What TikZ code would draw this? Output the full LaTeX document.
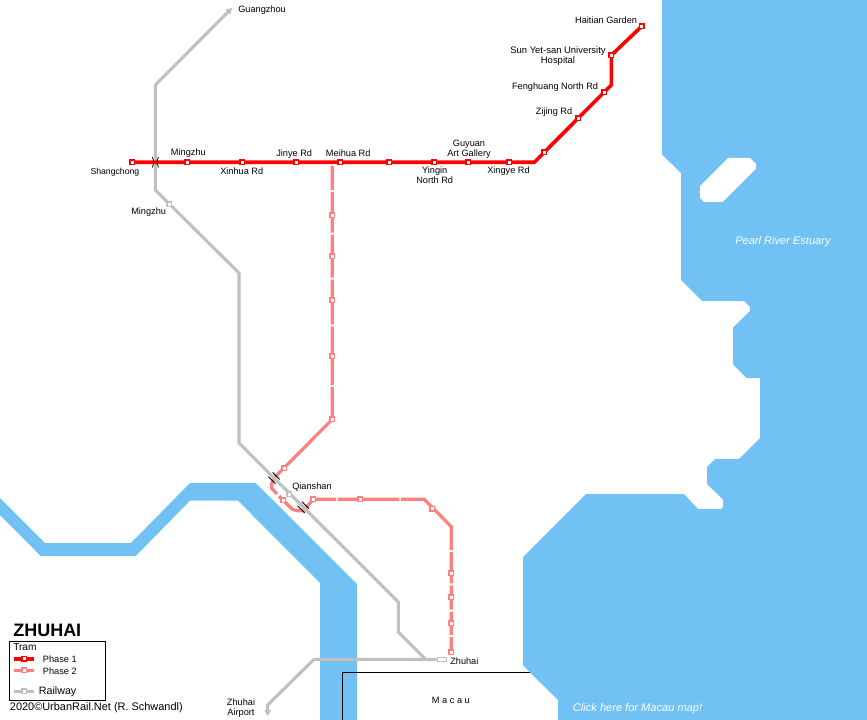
\documentclass[tikz,border=0pt]{standalone}
\usepackage{fontspec}
\setmainfont{Liberation Sans}
\usetikzlibrary{arrows.meta}
\pgfdeclarelayer{water}\pgfdeclarelayer{pinklayer}\pgfdeclarelayer{greylayer}\pgfdeclarelayer{redlayer}
\pgfsetlayers{water,pinklayer,greylayer,redlayer,main}
\definecolor{wat}{RGB}{114,193,245}
\definecolor{ph1}{RGB}{255,0,0}
\definecolor{ph2}{RGB}{255,128,128}
\definecolor{rail}{RGB}{192,192,192}
\tikzset{
  phaseone/.style={draw=ph1,line width=2.7pt,line join=miter},
  phasetwo/.style={draw=ph2,line width=2.4pt,line join=miter},
  railline/.style={draw=rail,line width=2.3pt,line join=miter},
  st/.style={rectangle,fill=white,inner sep=0pt,minimum size=3.5pt,line width=.9pt},
  stone/.style={st,draw=ph1},
  sttwo/.style={st,draw=ph2},
  strail/.style={st,draw=rail},
  lab/.style={inner sep=0pt,font=\fontsize{6.9}{7.5}\selectfont,text height=5pt,text depth=.3pt},
  labtwo/.style={inner sep=0pt,font=\fontsize{6.9}{7.5}\selectfont,align=center},
  wlab/.style={inner sep=0pt,font=\fontsize{8.3}{9}\itshape\selectfont,text=white,text height=5.4pt,text depth=.3pt},
  tick/.style={draw=black,line width=.6pt},
  x=.75pt,y=-.75pt
}
\begin{document}
\begin{tikzpicture}
\useasboundingbox (0,0) rectangle (867,720);
\begin{pgfonlayer}{water}
\fill[white] (0,0) rectangle (867,720);
\fill[wat] (662,0) -- (662,154.5) -- (681,173) -- (681,280) -- (702,301) -- (744,301) -- (750,307) -- (750,311) -- (733,327.5) -- (733,364.5) -- (746.5,378) -- (760,378) -- (760,438) -- (739,459) -- (715,459) -- (707,467) -- (707,484) -- (723,499.5) -- (723,507) -- (721,509) -- (698,509) -- (684,494) -- (586,494) -- (523,557) -- (523,665.5) -- (558,700) -- (558,720) -- (867,720) -- (867,0) -- cycle;
\fill[white] (728,158) -- (750,158) -- (756,164) -- (756,168.7) -- (722.7,202) -- (704,202) -- (700,198) -- (700,186) -- cycle;
\fill[wat] (0,498) -- (45,543) -- (131,543) -- (190,483) -- (255.7,483) -- (357,584) -- (357,720) -- (320,720) -- (320,583) -- (238,500.7) -- (190,500.7) -- (135.7,556) -- (40.7,556) -- (0,515) -- cycle;
\end{pgfonlayer}

% Macau border
\coordinate (bA) at (530,672.3);
\coordinate (bB) at (342.7,672.3);
\coordinate (bC) at (342.7,720);
\draw[line width=.75pt,black] (bA) -- (bB) -- (bC);

% Tram phase 1 stations
\node[stone] (shangchong) at (132.3,162.3) {};
\node[stone] (mingzhuT) at (187.3,162.3) {};
\node[stone] (xinhua) at (242.3,162.3) {};
\node[stone] (jinye) at (296.3,162.3) {};
\node[stone] (meihua) at (340.3,162.3) {};
\node[stone] (unnamedA) at (389.3,162.3) {};
\node[stone] (yingin) at (434.3,162.3) {};
\node[stone] (guyuan) at (468.3,162.3) {};
\node[stone] (xingye) at (509.3,162.3) {};
\node[stone] (unnamedB) at (544.3,152.3) {};
\node[stone] (zijing) at (578.3,118.3) {};
\node[stone] (fenghuang) at (604.3,92.3) {};
\node[stone] (sunyat) at (611.3,55.3) {};
\node[stone] (haitian) at (641.7,26.3) {};
\coordinate (rb1) at (534.3,162.3);
\coordinate (rb2) at (611.3,85);
\begin{pgfonlayer}{redlayer}
\draw[phaseone] (shangchong.center) -- (rb1) -- (rb2) -- (sunyat.center) -- (haitian.center);
\end{pgfonlayer}

% Tram phase 2 stations
\node[sttwo] (v1) at (332.3,215.3) {};
\node[sttwo] (v2) at (332.3,256.3) {};
\node[sttwo] (v3) at (332.3,300.3) {};
\node[sttwo] (v4) at (332.3,356.3) {};
\node[sttwo] (v5) at (332.3,419.3) {};
\node[sttwo] (q1) at (284.3,468.3) {};
\node[sttwo] (q2) at (283.3,500.3) {};
\node[sttwo] (q3) at (313.3,499.3) {};
\node[sttwo] (h1) at (360.3,499.3) {};
\node[sttwo] (h2) at (432.3,508.7) {};
\node[sttwo] (d1) at (451.3,573.3) {};
\node[sttwo] (d2) at (451.3,597.3) {};
\node[sttwo] (d3) at (451.3,623.3) {};
\node[sttwo] (d4) at (451.3,652.3) {};
\coordinate (pstart) at (332.3,166);
\foreach \n/\y in {a/191,b/233.7,c/278.7,d/325.3,e/386}{
  \coordinate (g\n1) at (332.3,\y-1);
  \coordinate (g\n2) at (332.3,\y+1);
}
\foreach \n/\y in {k/551,l/584.3,m/610.5,n/636}{
  \coordinate (g\n1) at (451.3,\y-1);
  \coordinate (g\n2) at (451.3,\y+1);
}
\coordinate (x1) at (274,478);
\coordinate (x2) at (303.3,507.3);
\coordinate (pb1) at (271.7,483.3);
\coordinate (pb2) at (271.7,488.3);
\coordinate (pb3) at (277,494);
\coordinate (pb4) at (279,496);
\coordinate (pb5) at (292.3,509.3);
\coordinate (pb6) at (296.7,510.7);
\coordinate (pb7) at (303.3,510.7);
\coordinate (hg1) at (336,499.3);
\coordinate (hg2) at (337.6,499.3);
\coordinate (hg3) at (399.3,499.3);
\coordinate (hg4) at (400.9,499.3);
\coordinate (pb8) at (424.3,499.3);
\coordinate (pb9) at (451.3,526.7);
\begin{pgfonlayer}{pinklayer}
\draw[phasetwo] (pstart) -- (ga1) (ga2) -- (gb1) (gb2) -- (gc1) (gc2) -- (gd1) (gd2) -- (ge1) (ge2) -- (v5.center) -- (x1) -- (pb1) -- (pb2) -- (pb3);
\draw[phasetwo] (pb4) -- (pb5) -- (pb6) -- (pb7) -- (q3.center) -- (hg1) (hg2) -- (hg3) (hg4) -- (pb8) -- (pb9) -- (gk1) (gk2) -- (gl1) (gl2) -- (gm1) (gm2) -- (gn1) (gn2) -- (d4.center);
\end{pgfonlayer}

% Railway
\coordinate (rTop) at (232,8);
\coordinate (r1) at (155.3,85);
\coordinate (r2) at (155.3,190);
\coordinate (r3) at (239,273);
\coordinate (r4) at (239,443);
\coordinate (r5) at (398.3,602);
\coordinate (r6) at (398.3,632);
\coordinate (r7) at (425.5,659.3);
\coordinate (r8) at (314,659.3);
\coordinate (r9) at (267.7,705);
\coordinate (rEnd) at (267.7,716);
\node[strail] (mingzhuR) at (169.3,204.3) {};
\node[strail] (qianshan) at (289.3,494.3) {};
\node[st,draw=rail,minimum width=7pt,minimum height=3.2pt] (zhuhaiR) at (442,659.5) {};
\begin{pgfonlayer}{greylayer}
\draw[railline,-{Stealth[length=4.2pt,width=5pt,inset=0pt]}] (r1) -- (rTop);
\draw[railline] (r1) -- (r2) -- (r3) -- (r4) -- (r5) -- (r6) -- (r7);
\draw[railline] (zhuhaiR.west) -- (r8);
\draw[railline,-{Stealth[length=4.2pt,width=5pt,inset=0pt]}] (r8) -- (r9) -- (rEnd);
\end{pgfonlayer}

% Bridge ticks
\foreach \c in {x1,x2}{
  \draw[tick] ([shift={(-1.4,-5.6)}]\c) -- ([shift={(5.6,1.4)}]\c);
  \draw[tick] ([shift={(-5.6,-1.4)}]\c) -- ([shift={(1.4,5.6)}]\c);
}
\coordinate (x3a) at (152.3,157);
\coordinate (x3b) at (152.3,167.5);
\coordinate (x3c) at (158.5,157);
\coordinate (x3d) at (158.5,167.5);
\draw[tick] (x3a) .. controls (154.2,162) .. (x3b);
\draw[tick] (x3c) .. controls (156.6,162) .. (x3d);

% Labels
\node[lab,anchor=west] (lGuangzhou) at (238,9) {Guangzhou};
\node[lab,anchor=east] (lHaitian) at (637.3,20.7) {Haitian Garden};
\node[labtwo,font=\fontsize{7.1}{7.5}\selectfont] (lSun) at (558,55.7) {Sun Yet-san University\\Hospital};
\node[lab,anchor=east] (lFeng) at (598.3,86.7) {Fenghuang North Rd};
\node[lab,anchor=east] (lZijing) at (572.5,111.7) {Zijing Rd};
\node[labtwo] (lGuyuan) at (469,149) {Guyuan\\Art Gallery};
\node[labtwo] (lYingin) at (434.7,175) {Yingin\\North Rd};
\node[lab,anchor=west] (lXingye) at (487,170.7) {Xingye Rd};
\node[lab,anchor=west] (lMingzhuT) at (170.7,152.7) {Mingzhu};
\node[lab,anchor=east,font=\fontsize{6.5}{7.5}\selectfont] (lShang) at (139.5,171) {Shangchong};
\node[lab,anchor=west] (lXinhua) at (220,171) {Xinhua Rd};
\node[lab,anchor=west] (lJinye) at (276,153) {Jinye Rd};
\node[lab,anchor=west] (lMeihua) at (325.7,153) {Meihua Rd};
\node[lab,anchor=east] (lMingzhuR) at (166.3,211) {Mingzhu};
\node[lab,anchor=west] (lQian) at (292,486.7) {Qianshan};
\node[lab,anchor=west] (lZhuhai) at (450,661.7) {Zhuhai};
\node[labtwo] (lAirport) at (241,707.8) {Zhuhai\\Airport};
\node[lab,anchor=west] (lMacau) at (431.7,700.7) {M a c a u};
\node[wlab,anchor=west] (lClick) at (572.7,708.3) {Click here for Macau map!};
\node[wlab,anchor=west] (lPearl) at (735,241) {Pearl River Estuary};

% Legend
\node[inner sep=0pt,anchor=west,font=\fontsize{13.5}{15}\bfseries\selectfont] (title) at (13,630) {ZHUHAI};
\node[draw=black,line width=.75pt,inner sep=0pt,minimum width=71.5pt,minimum height=43.7pt] (legend) at (57.5,671) {};
\node[inner sep=0pt,anchor=west,font=\fontsize{7.6}{9}\selectfont] (lgTram) at (13,647) {Tram};
\coordinate (la1) at (14.3,658.7); \coordinate (la2) at (34,658.7);
\coordinate (lb1) at (14.3,670.3); \coordinate (lb2) at (34,670.3);
\coordinate (lc1) at (14.3,691.3); \coordinate (lc2) at (34,691.3);
\draw[phaseone] (la1) -- (la2);
\draw[phasetwo] (lb1) -- (lb2);
\draw[railline] (lc1) -- (lc2);
\node[stone] (lgS1) at (24.3,658.7) {};
\node[sttwo] (lgS2) at (24.3,670.3) {};
\node[strail] (lgS3) at (24.3,691.3) {};
\node[lab,anchor=west] (lgP1) at (42.7,659) {Phase 1};
\node[lab,anchor=west] (lgP2) at (42.7,671) {Phase 2};
\node[inner sep=0pt,anchor=west,font=\fontsize{8}{9}\selectfont] (lgRail) at (38.7,692) {Railway};
\node[inner sep=0pt,anchor=west,font=\fontsize{8.2}{10}\selectfont] (copy) at (9.7,708) {2020©UrbanRail.Net (R. Schwandl)};
\end{tikzpicture}
\end{document}
